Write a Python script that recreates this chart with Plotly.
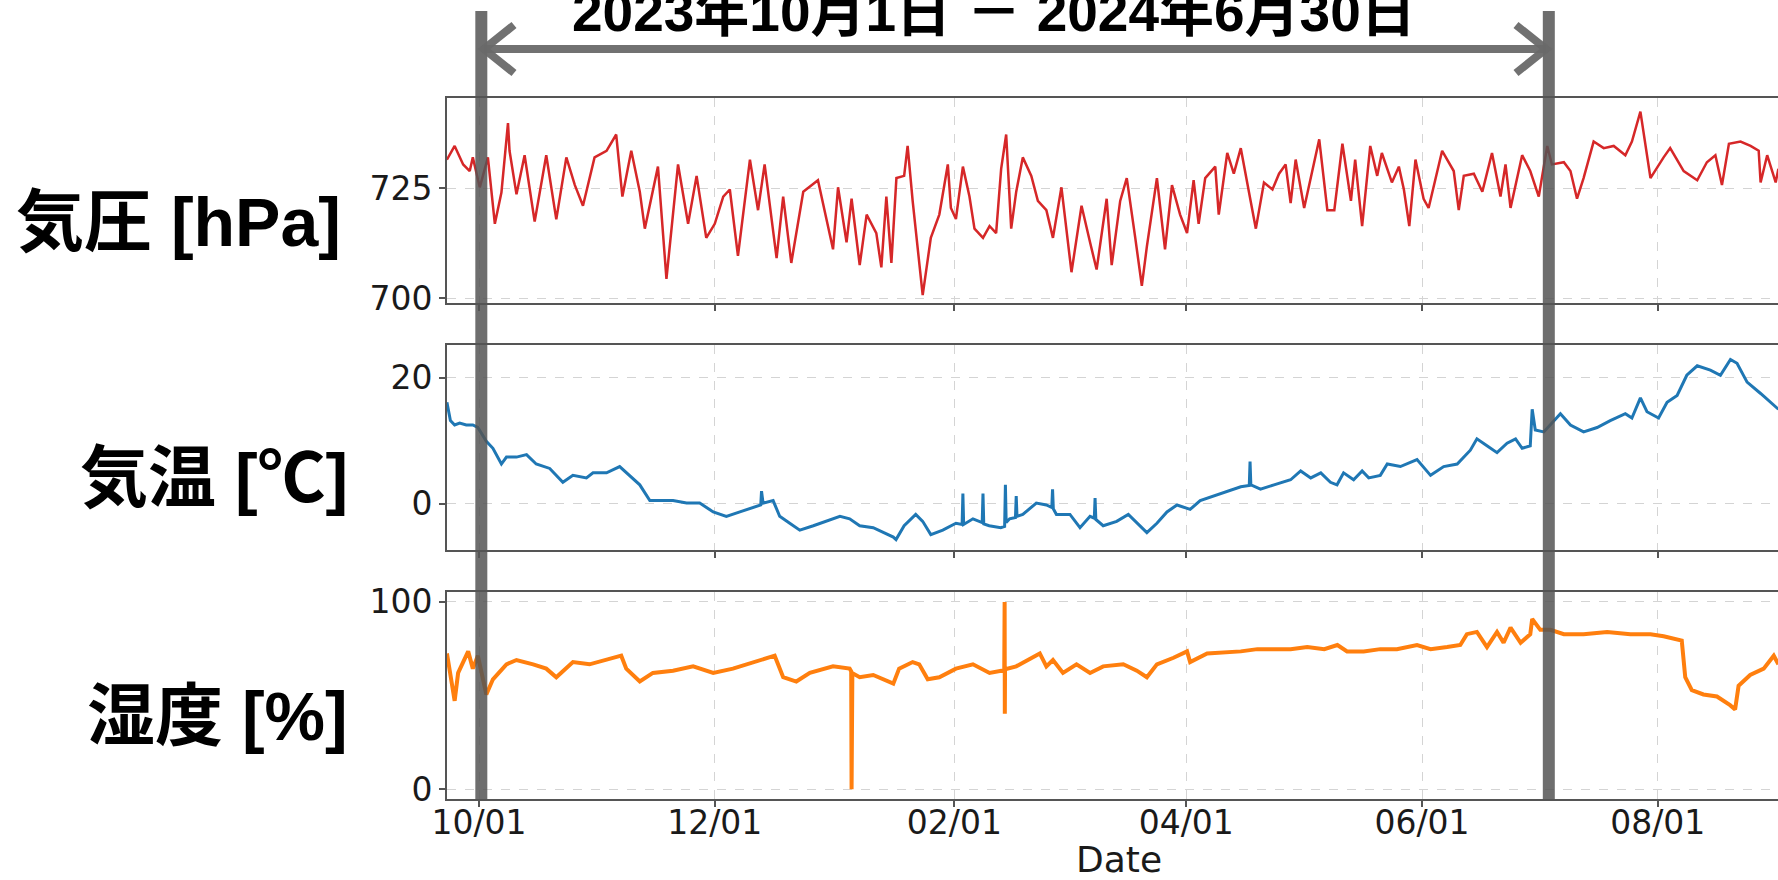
import pandas as pd
import plotly.graph_objects as go
from plotly.subplots import make_subplots

BASE = pd.Timestamp("2023-10-01")

# ---------------- data (days since 2023-10-01, value) ----------------
pressure_days = [-8.3, -6.3, -4.1, -2.4, -1.6, 0.2, 2.3, 4.1, 5.8, 7.5, 7.9, 9.7, 11.8, 14.4, 17.4, 20.0,
                 22.6, 24.8, 26.9, 29.9, 33.0, 35.5, 37.1, 39.4, 41.6, 42.9, 46.3, 48.5, 51.5, 54.1, 56.3,
                 58.8, 61.0, 63.2, 64.9, 67.0, 70.1, 72.2, 73.9, 77.0, 78.7, 80.8, 83.9, 87.7, 91.6, 92.9,
                 95.1, 96.4, 98.5, 100.3, 102.8, 104.1, 105.4, 106.7, 108.0, 110.0, 110.9, 112.2, 114.8,
                 116.9, 119.1, 121.3, 122.1, 123.4, 125.2, 126.9, 128.2, 130.4, 132.1, 133.8, 135.1, 136.4,
                 137.7, 139.0, 140.7, 142.9, 144.6, 146.8, 148.5, 150.7, 153.3, 155.9, 158.1, 159.8, 162.4,
                 163.7, 165.9, 167.6, 169.8, 171.5, 172.8, 175.4, 177.5, 179.3, 181.4, 183.2, 184.9, 186.2,
                 187.9, 190.5, 191.4, 193.6, 195.3, 197.1, 199.2, 201.0, 203.1, 205.3, 207.0, 208.7, 210.0,
                 211.3, 213.5, 217.4, 219.5, 221.3, 223.4, 225.6, 226.7, 228.5, 230.6, 232.4, 233.6, 236.2,
                 238.0, 239.3, 240.7, 242.3, 244.4, 245.7, 249.2, 252.2, 253.5, 254.8, 257.4, 259.6, 262.1,
                 264.3, 265.6, 266.9, 269.9, 272.0, 274.2, 276.4, 277.6, 280.7, 282.4, 284.1, 285.8, 288.4,
                 291.0, 293.6, 296.6, 298.3, 300.5, 303.1, 306.5, 308.2, 311.7, 315.2, 317.7, 319.9, 321.6,
                 323.4, 326.4, 329.0, 331.1, 331.6, 333.3, 335.5, 336.2]
pressure_hpa = [731.5, 734.6, 730.4, 728.9, 732.0, 725.2, 732.0, 716.9, 724.0, 739.8, 733.5, 723.6, 732.5,
                717.4, 732.5, 717.9, 732.0, 725.7, 721.0, 732.0, 733.5, 737.2, 723.1, 733.5, 724.2, 715.8,
                729.9, 704.4, 730.4, 716.9, 727.8, 713.7, 716.9, 723.1, 724.7, 709.6, 731.5, 720.0, 730.4,
                709.1, 723.1, 708.0, 724.2, 726.8, 711.1, 725.2, 712.7, 722.6, 707.5, 719.0, 714.8, 707.0,
                723.1, 708.0, 727.3, 727.8, 734.6, 722.1, 700.7, 713.7, 719.0, 730.4, 720.5, 718.0, 729.9,
                723.1, 715.8, 713.7, 716.4, 714.8, 729.4, 737.2, 715.8, 724.2, 732.0, 727.8, 722.1, 720.0,
                713.7, 725.2, 705.9, 721.0, 712.7, 706.5, 722.6, 707.5, 722.1, 727.3, 713.7, 702.8, 711.7,
                727.3, 711.1, 725.7, 719.0, 714.8, 726.8, 716.9, 727.3, 729.9, 719.0, 733.0, 728.3, 734.1,
                724.2, 715.8, 726.3, 724.7, 728.3, 730.4, 721.6, 731.5, 720.5, 736.1, 720.0, 720.0, 735.1,
                722.1, 731.5, 716.4, 734.6, 727.8, 733.0, 726.3, 729.9, 724.7, 716.4, 731.5, 722.6, 720.5,
                733.5, 728.9, 720.0, 727.8, 728.3, 724.2, 733.0, 723.1, 730.4, 720.5, 732.5, 728.9, 723.1,
                734.6, 730.4, 730.9, 728.9, 722.6, 727.3, 735.6, 734.1, 734.6, 732.5, 735.6, 742.4, 727.3,
                732.0, 734.1, 728.9, 726.8, 730.9, 732.5, 725.7, 735.1, 735.6, 734.6, 733.5, 726.3, 732.5,
                726.3, 729.4]

temp_days = [-8.3, -7.4, -6.3, -5.0, -3.3, -1.6, -0.3, 1.9, 3.6, 5.8, 7.1, 9.7, 12.3, 14.8, 18.3, 21.7,
             24.3, 27.8, 29.5, 33.0, 36.4, 39.0, 41.6, 44.2, 46.8, 50.2, 53.7, 57.1, 60.6, 64.0, 67.5,
             70.9, 72.9, 73.1, 73.5, 76.1, 77.8, 80.4, 83.0, 86.5, 89.9, 93.4, 95.9, 98.5, 102.0, 104.6,
             107.2, 107.9, 110.0, 113.0, 114.8, 116.9, 120.0, 123.4, 125.0, 125.2, 125.4, 127.8, 130.2,
             130.4, 130.6, 132.0, 135.0, 136.0, 136.2, 136.4, 137.3, 138.8, 139.0, 139.2, 140.7, 144.2,
             146.8, 148.2, 148.4, 148.6, 149.4, 152.9, 155.5, 158.1, 159.2, 159.4, 159.6, 161.5, 165.0,
             168.0, 170.2, 172.8, 175.4, 178.0, 180.6, 184.0, 186.6, 190.1, 193.6, 197.1, 199.3, 199.5,
             199.7, 202.2, 205.7, 210.0, 212.6, 215.2, 217.8, 220.3, 222.0, 223.7, 226.3, 228.5, 230.2,
             233.2, 235.0, 238.4, 242.7, 246.2, 249.6, 253.1, 256.5, 258.2, 260.8, 263.4, 266.0, 268.2,
             269.9, 272.0, 272.5, 273.3, 275.5, 277.2, 279.8, 282.4, 285.8, 289.3, 292.7, 296.6, 298.3,
             300.5, 302.2, 305.2, 307.4, 310.0, 312.5, 315.2, 318.6, 321.2, 323.8, 325.5, 328.1, 331.6,
             334.2, 336.2]
temp_c = [16.1, 13.2, 12.5, 12.8, 12.5, 12.5, 12.1, 9.9, 8.8, 6.3, 7.4, 7.4, 7.8, 6.3, 5.6, 3.4,
          4.5, 4.1, 4.9, 4.9, 5.9, 4.5, 3.0, 0.5, 0.5, 0.5, 0.1, 0.1, -1.3, -2.0, -1.3,
          -0.6, -0.2, 2.0, 0.1, 0.5, -2.0, -3.1, -4.2, -3.5, -2.8, -2.0, -2.4, -3.5, -3.8, -4.6,
          -5.3, -5.7, -3.5, -1.7, -2.8, -4.9, -4.2, -3.1, -3.3, 1.6, -3.3, -2.4, -3.0,
          1.6, -3.2, -3.5, -3.8, -3.6, 3.0, -3.0, -2.4, -2.2, 1.2, -2.0, -1.7, 0.1,
          -0.2, -0.6, 2.3, -0.8, -1.7, -1.7, -3.8, -2.0, -2.3, 0.9, -2.5, -3.5, -2.8,
          -1.7, -3.1, -4.6, -3.1, -1.3, -0.2, -0.9, 0.5, 1.2, 2.0, 2.7, 2.9, 6.7,
          3.0, 2.3, 3.0, 3.8, 5.2, 4.1, 4.9, 3.4, 3.0, 4.9, 3.8, 5.2, 4.1,
          4.5, 6.3, 5.9, 7.0, 4.5, 5.9, 6.3, 8.5, 10.3, 9.2, 8.1, 9.6, 10.3,
          8.8, 9.2, 15.0, 11.7, 11.4, 12.5, 14.3, 12.5, 11.4, 12.1, 13.2, 14.3, 13.6,
          16.8, 14.6, 13.6, 16.1, 17.2, 20.4, 21.9, 21.2, 20.4, 22.9, 22.3, 19.3, 17.5,
          16.1, 15.0]

humid_days = [-8.3, -7.2, -6.3, -5.4, -2.8, -1.6, -0.3, 1.9, 3.6, 7.1, 9.7, 14.0, 17.4, 20.0, 24.3,
              28.6, 33.0, 36.8, 38.1, 41.6, 45.0, 50.2, 55.4, 60.6, 65.7, 72.6, 76.5, 78.7, 82.1, 85.6,
              91.6, 95.9, 96.3, 96.4, 96.6, 98.5, 102.0, 107.2, 108.7, 112.2, 113.9, 116.1, 119.1, 123.4,
              127.8, 132.1, 135.1, 135.9, 136.0, 136.05, 136.1, 139.0, 145.1, 146.8, 148.5, 151.1, 154.6,
              158.1, 161.5, 166.7, 170.2, 172.8, 175.4, 179.7, 183.2, 184.0, 188.4, 197.1, 201.4, 210.0,
              214.3, 218.7, 222.1, 224.6, 228.9, 233.2, 237.5, 242.7, 246.2, 250.5, 253.9, 255.6, 258.2,
              260.8, 263.4, 265.1, 266.9, 269.5, 272.0, 272.5, 274.6, 277.2, 280.7, 285.8, 291.9, 297.9,
              303.1, 306.5, 311.2, 312.1, 313.8, 316.8, 320.3, 323.7, 325.0, 325.9, 328.9, 332.4, 335.0,
              336.2]
humid_pct = [72.5, 59.8, 47.2, 62.1, 73.6, 64.4, 71.3, 50.6, 58.7, 66.7, 69.0, 66.7, 64.4, 59.8, 67.9,
             66.7, 69.0, 71.3, 64.4, 57.5, 62.1, 63.3, 65.6, 62.1, 64.4, 69.0, 71.3, 59.8, 57.5, 62.1,
             65.6, 64.4, 63.0, 0.0, 62.0, 59.8, 61.0, 56.4, 64.4, 67.9, 66.7, 58.7, 59.8, 64.4,
             66.7, 62.1, 63.3, 63.0, 100.0, 40.3, 64.0, 65.6, 72.5, 65.6, 69.0, 62.1, 66.7,
             62.1, 65.6, 66.7, 63.3, 59.8, 66.7, 70.2, 73.6, 67.9, 72.5, 73.6, 74.8, 74.8,
             75.9, 74.8, 77.0, 73.6, 73.6, 74.8, 74.8, 77.0, 74.8, 75.9, 77.0, 82.8, 84.0,
             75.9, 84.0, 78.2, 86.3, 78.2, 82.8, 90.9, 85.1, 85.1, 82.8, 82.8, 84.0, 82.8,
             82.8, 81.7, 79.4, 59.8, 52.9, 50.6, 49.5, 44.9, 42.6, 55.2, 61.0, 64.4, 71.3,
             66.7]

x_tick_dates = ["2023-10-01", "2023-12-01", "2024-02-01", "2024-04-01", "2024-06-01", "2024-08-01"]
x_tick_labels = ["10/01", "12/01", "02/01", "04/01", "06/01", "08/01"]
pressure_ticks = [700, 725]
temp_ticks = [0, 20]
humid_ticks = [0, 100]
period_title = "2023年10月1日 － 2024年6月30日"
period_marks_days = [0.6, 276.8]
row_labels = ["気圧 [hPa]", "気温 [℃]", "湿度 [%]"]
x_axis_title = "Date"


def to_dates(days):
    return BASE + pd.to_timedelta(days, unit="D")


W, H = 1778, 880
L, R, T, B = 447, 0, 98, 81
PW, PH = W - L - R, H - T - B


def px_x(px):
    return (px - L) / PW


def px_y(py):
    return (H - B - py) / PH


fig = make_subplots(rows=3, cols=1, shared_xaxes=True)

fig.add_trace(go.Scatter(x=to_dates(pressure_days), y=pressure_hpa, mode="lines",
                         line=dict(color="#d62728", width=2.5), showlegend=False), row=1, col=1)
fig.add_trace(go.Scatter(x=to_dates(temp_days), y=temp_c, mode="lines",
                         line=dict(color="#1f77b4", width=3), showlegend=False), row=2, col=1)
fig.add_trace(go.Scatter(x=to_dates(humid_days), y=humid_pct, mode="lines",
                         line=dict(color="#ff7f0e", width=4), showlegend=False), row=3, col=1)

xr = [BASE + pd.Timedelta(days=-8.28), BASE + pd.Timedelta(days=336.1)]
tick_font = dict(family="DejaVu Sans", size=33, color="#1a1a1a")
axis_common = dict(showline=True, mirror=True, linecolor="#555555", linewidth=2,
                   showgrid=True, gridcolor="#d4d4d4", griddash="dash", gridwidth=1,
                   ticks="outside", ticklen=6, tickcolor="#555555", tickwidth=1.5,
                   zeroline=False, tickfont=tick_font, automargin=False)

for i in (1, 2, 3):
    fig.update_xaxes(range=xr, tickmode="array", tickvals=x_tick_dates, ticktext=x_tick_labels,
                     showticklabels=(i == 3), row=i, col=1, **axis_common)

fig.update_xaxes(ticklabelstandoff=-13, row=3, col=1)

fig.update_yaxes(range=[698.9, 745.5], tickvals=pressure_ticks, row=1, col=1, **axis_common)
fig.update_yaxes(range=[-7.35, 25.2], tickvals=temp_ticks, row=2, col=1, **axis_common)
fig.update_yaxes(range=[-5.2, 105.3], tickvals=humid_ticks, row=3, col=1, **axis_common)

fig.update_layout(
    yaxis=dict(domain=[px_y(303), px_y(98)]),
    yaxis2=dict(domain=[px_y(550), px_y(345)]),
    yaxis3=dict(domain=[px_y(799), px_y(592)]),
)

# vertical period markers
bar_top, bar_bot = px_y(11), px_y(800)
for d in period_marks_days:
    xd = BASE + pd.Timedelta(days=d)
    fig.add_shape(type="line", xref="x3", yref="paper", x0=xd, x1=xd, y0=bar_bot, y1=bar_top,
                  line=dict(color="rgba(85,85,85,0.85)", width=12), layer="above")

# double arrow
ay = px_y(49)
ax0, ax1 = px_x(484), px_x(1546)
arrow_col = "rgba(105,105,105,0.95)"
fig.add_shape(type="line", xref="paper", yref="paper", x0=ax0, x1=ax1, y0=ay, y1=ay,
              line=dict(color=arrow_col, width=8), layer="above")
cdx, cdy = 30 / PW, 24 / PH
for (tip, sgn) in ((ax0, 1), (ax1, -1)):
    path = f"M {tip + sgn * cdx} {ay + cdy} L {tip} {ay} L {tip + sgn * cdx} {ay - cdy}"
    fig.add_shape(type="path", xref="paper", yref="paper", path=path,
                  line=dict(color=arrow_col, width=8), layer="above")

label_font = dict(family="Liberation Sans, Noto Sans CJK JP", size=68, color="black")
annotations = [
    dict(text=f"<b>{period_title}</b>", x=px_x(994), y=px_y(12), xref="paper", yref="paper",
         showarrow=False, xanchor="center", yanchor="middle",
         font=dict(family="Liberation Sans, Noto Sans CJK JP", size=55, color="black")),
    dict(text=x_axis_title, x=px_x(1119), y=px_y(859), xref="paper", yref="paper",
         showarrow=False, xanchor="center", yanchor="middle",
         font=dict(family="DejaVu Sans", size=36, color="#1a1a1a")),
]
for lbl, cx, cy in zip(row_labels, [343, 350, 350], [222, 478, 716]):
    annotations.append(dict(text=f"<b>{lbl}</b>", x=px_x(cx), y=px_y(cy), xref="paper", yref="paper",
                            showarrow=False, xanchor="right", yanchor="middle", font=label_font))

fig.update_layout(
    width=W, height=H,
    margin=dict(l=L, r=R, t=T, b=B, autoexpand=False),
    paper_bgcolor="white", plot_bgcolor="white",
    annotations=annotations,
    showlegend=False,
)

fig.write_html("out.html")
